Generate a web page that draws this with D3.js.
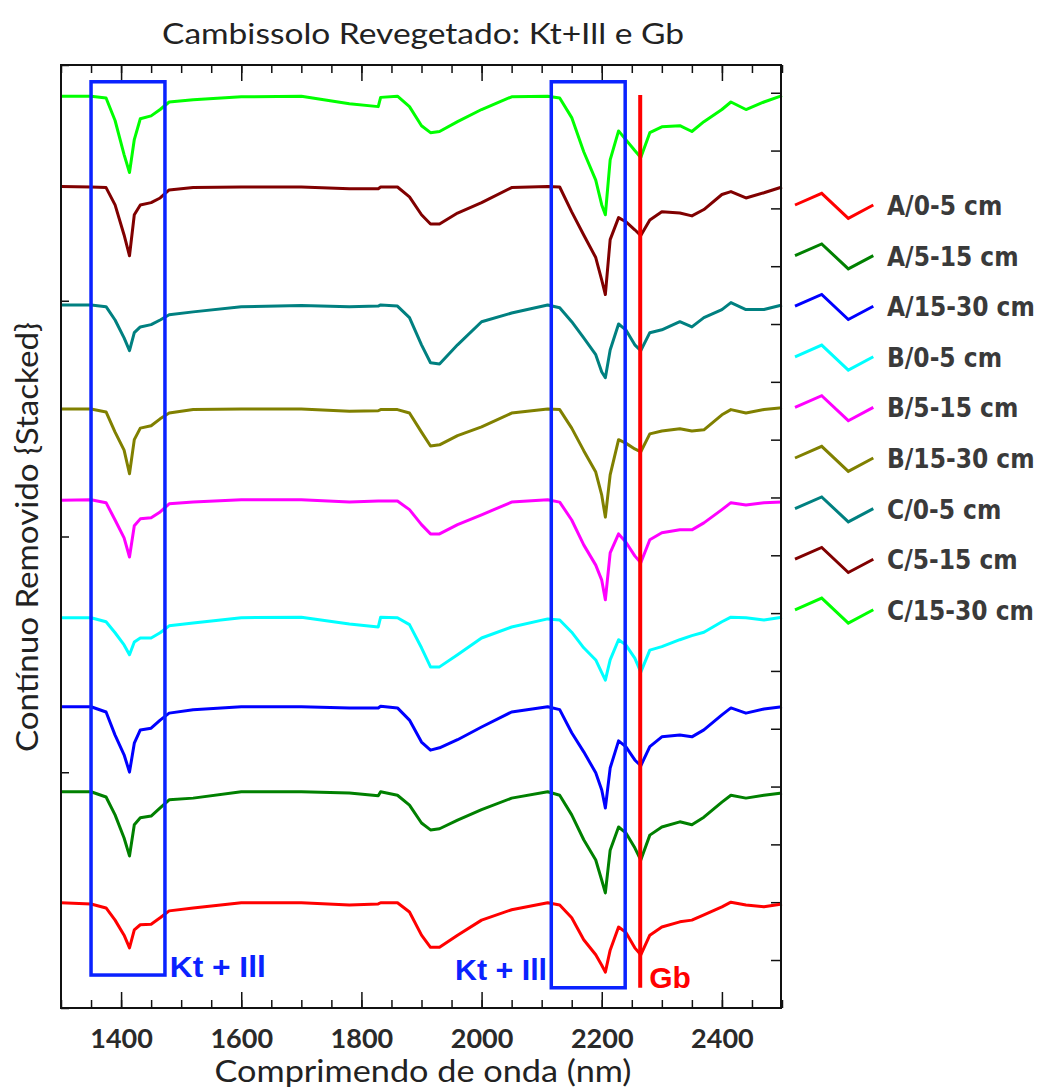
<!DOCTYPE html>
<html>
<head>
<meta charset="utf-8">
<script src="https://cdn.jsdelivr.net/npm/d3@7"></script>
<style>
  body { margin: 0; background: #fff; }
  svg { display: block; }
</style>
</head>
<body>
<div id="chart"></div>
<script>
// wavelengths (nm) shared by all spectra
const wavelengths = [1300, 1350, 1375, 1390, 1405, 1414, 1422, 1432, 1450, 1465,
  1480, 1520, 1600, 1700, 1780, 1828, 1832, 1860, 1880, 1900,
  1915, 1930, 1960, 2000, 2050, 2110, 2130, 2150, 2170, 2190,
  2200, 2206, 2214, 2228, 2240, 2255, 2265, 2280, 2300, 2330,
  2350, 2370, 2400, 2415, 2440, 2470, 2500];

// stacked continuum removed values
const a0_5 = [0.099, 0.097, 0.090, 0.069, 0.043, 0.021, 0.052, 0.061, 0.062, 0.073,
  0.085, 0.090, 0.099, 0.099, 0.095, 0.097, 0.099, 0.099, 0.083, 0.043,
  0.022, 0.022, 0.043, 0.069, 0.087, 0.099, 0.095, 0.073, 0.035, 0.009,
  -0.009, -0.021, 0.017, 0.057, 0.048, 0.021, 0.009, 0.043, 0.057, 0.066,
  0.069, 0.078, 0.092, 0.100, 0.095, 0.092, 0.097];
const a5_15 = [0.291, 0.291, 0.282, 0.251, 0.211, 0.180, 0.234, 0.246, 0.249, 0.263,
  0.277, 0.280, 0.291, 0.291, 0.289, 0.284, 0.291, 0.285, 0.268, 0.237,
  0.225, 0.227, 0.242, 0.260, 0.280, 0.291, 0.285, 0.251, 0.208, 0.173,
  0.138, 0.116, 0.190, 0.230, 0.220, 0.194, 0.173, 0.216, 0.230, 0.239,
  0.234, 0.247, 0.273, 0.285, 0.280, 0.285, 0.289];
const a15_30 = [0.438, 0.438, 0.429, 0.389, 0.355, 0.325, 0.375, 0.398, 0.401, 0.415,
  0.427, 0.433, 0.438, 0.438, 0.436, 0.436, 0.439, 0.436, 0.415, 0.377,
  0.363, 0.367, 0.381, 0.403, 0.429, 0.438, 0.433, 0.393, 0.360, 0.324,
  0.294, 0.263, 0.332, 0.379, 0.369, 0.346, 0.336, 0.369, 0.386, 0.389,
  0.386, 0.398, 0.424, 0.436, 0.427, 0.434, 0.438];
const b0_5 = [0.592, 0.592, 0.585, 0.566, 0.545, 0.528, 0.550, 0.557, 0.557, 0.566,
  0.578, 0.583, 0.592, 0.593, 0.581, 0.576, 0.593, 0.592, 0.580, 0.540,
  0.507, 0.507, 0.528, 0.557, 0.576, 0.590, 0.588, 0.567, 0.540, 0.519,
  0.497, 0.484, 0.519, 0.554, 0.545, 0.522, 0.498, 0.536, 0.542, 0.554,
  0.561, 0.567, 0.585, 0.593, 0.592, 0.588, 0.593];
const b5_15 = [0.795, 0.796, 0.791, 0.761, 0.730, 0.697, 0.751, 0.763, 0.765, 0.775,
  0.789, 0.792, 0.796, 0.796, 0.792, 0.794, 0.794, 0.794, 0.779, 0.753,
  0.737, 0.737, 0.753, 0.770, 0.792, 0.796, 0.792, 0.761, 0.718, 0.683,
  0.657, 0.623, 0.704, 0.737, 0.723, 0.699, 0.687, 0.727, 0.739, 0.744,
  0.744, 0.756, 0.779, 0.791, 0.787, 0.791, 0.792];
const b15_30 = [0.953, 0.953, 0.948, 0.913, 0.882, 0.841, 0.900, 0.920, 0.924, 0.936,
  0.946, 0.952, 0.953, 0.953, 0.949, 0.950, 0.952, 0.952, 0.946, 0.913,
  0.889, 0.891, 0.907, 0.922, 0.946, 0.953, 0.952, 0.920, 0.881, 0.844,
  0.804, 0.766, 0.839, 0.900, 0.894, 0.884, 0.879, 0.910, 0.915, 0.919,
  0.915, 0.917, 0.943, 0.952, 0.946, 0.952, 0.955];
const c0_5 = [1.133, 1.133, 1.130, 1.107, 1.076, 1.054, 1.085, 1.095, 1.099, 1.107,
  1.116, 1.121, 1.130, 1.132, 1.130, 1.131, 1.133, 1.131, 1.111, 1.064,
  1.033, 1.031, 1.064, 1.104, 1.119, 1.133, 1.128, 1.104, 1.076, 1.047,
  1.017, 1.007, 1.055, 1.100, 1.090, 1.064, 1.054, 1.085, 1.090, 1.104,
  1.095, 1.111, 1.125, 1.137, 1.125, 1.125, 1.133];
const c5_15 = [1.338, 1.337, 1.336, 1.306, 1.254, 1.218, 1.289, 1.306, 1.310, 1.318,
  1.332, 1.336, 1.337, 1.337, 1.334, 1.334, 1.337, 1.337, 1.320, 1.289,
  1.273, 1.273, 1.292, 1.310, 1.336, 1.338, 1.337, 1.294, 1.254, 1.215,
  1.176, 1.151, 1.246, 1.284, 1.277, 1.263, 1.253, 1.280, 1.294, 1.292,
  1.287, 1.298, 1.324, 1.329, 1.318, 1.327, 1.337];
const c15_30 = [1.494, 1.494, 1.491, 1.452, 1.393, 1.362, 1.419, 1.455, 1.460, 1.471,
  1.484, 1.488, 1.493, 1.494, 1.481, 1.476, 1.492, 1.494, 1.476, 1.443,
  1.431, 1.433, 1.450, 1.471, 1.493, 1.494, 1.491, 1.457, 1.398, 1.349,
  1.306, 1.289, 1.384, 1.434, 1.419, 1.400, 1.388, 1.431, 1.441, 1.443,
  1.433, 1.450, 1.471, 1.484, 1.471, 1.484, 1.495];

const seriesNames = ["A/0-5 cm", "A/5-15 cm", "A/15-30 cm", "B/0-5 cm", "B/5-15 cm",
  "B/15-30 cm", "C/0-5 cm", "C/5-15 cm", "C/15-30 cm"];
const seriesValues = [a0_5, a5_15, a15_30, b0_5, b5_15, b15_30, c0_5, c5_15, c15_30];
const seriesColors = ["#ff0000", "#008000", "#0000ff", "#00ffff", "#ff00ff",
  "#808000", "#008080", "#800000", "#00ff00"];

// annotation boxes (nm from, nm to) with (top, bottom) values, and the Gb line
const boxNm = [[1350, 1473], [2116, 2239]];
const boxV = [[1.519, -0.026], [1.519, -0.048]];
const gbNm = 2264;
const gbV = [1.496, -0.048];

const xMajor = [1400, 1600, 1800, 2000, 2200, 2400];
const xMinor = d3.range(1300, 2501, 50);
const yRight = d3.range(0, 16).map(i => i / 10);

const W = 1047, H = 1088;
const mLeft = 61, mRight = 781, mTop = 65, mBottom = 1008;

const svg = d3.select("#chart").append("svg")
    .attr("width", W)
    .attr("height", H);

const x = d3.scaleLinear().domain([1300, 2500]).range([mLeft, 782]);
const y = d3.scaleLinear().domain([-0.083, 1.548]).range([mBottom, mTop]);
const yOuter = d3.scaleLinear().domain([0, 4]).range([mBottom, mTop]);

// ticks
function tickAxis(axis, tr) {
    const g = svg.append("g").attr("transform", tr).call(axis);
    g.select(".domain").remove();
    g.selectAll(".tick line").attr("stroke", "#111").attr("stroke-width", 1.5);
    return g;
}

tickAxis(d3.axisBottom(x).tickValues(xMinor).tickSize(-8).tickFormat(""), `translate(0,${mBottom})`);
const xa = tickAxis(d3.axisBottom(x).tickValues(xMajor).tickSize(-16).tickPadding(21).tickFormat(d3.format("d")), `translate(0,${mBottom})`);
xa.selectAll("text")
    .attr("font-family", "Lato, 'Open Sans', sans-serif")
    .attr("font-size", 27)
    .attr("font-weight", "bold")
    .attr("fill", "#2a2a2a");
tickAxis(d3.axisTop(x).tickValues(xMinor).tickSize(-8).tickFormat(""), `translate(0,${mTop})`);
tickAxis(d3.axisTop(x).tickValues(xMajor).tickSize(-16).tickFormat(""), `translate(0,${mTop})`);
tickAxis(d3.axisRight(y).tickValues(yRight).tickSize(-10).tickFormat(""), `translate(${mRight},0)`);
tickAxis(d3.axisLeft(yOuter).ticks(4).tickSize(-8).tickFormat(""), `translate(${mLeft},0)`);

// spectra
const line = d3.line()
    .x((d, i) => x(wavelengths[i]))
    .y(d => y(d));

svg.append("g")
    .attr("fill", "none")
    .attr("stroke-width", 3)
    .attr("stroke-linejoin", "round")
    .selectAll("path")
    .data(seriesValues)
    .join("path")
    .attr("stroke", (d, i) => seriesColors[i])
    .attr("d", line);

// Kt + Ill boxes
svg.append("g")
    .selectAll("rect")
    .data(boxNm)
    .join("rect")
    .attr("x", d => x(d[0]))
    .attr("width", d => x(d[1]) - x(d[0]))
    .attr("y", (d, i) => y(boxV[i][0]))
    .attr("height", (d, i) => y(boxV[i][1]) - y(boxV[i][0]))
    .attr("fill", "none")
    .attr("stroke", "#0a22ff")
    .attr("stroke-width", 3.5);

// Gb line
svg.append("line")
    .attr("x1", x(gbNm)).attr("x2", x(gbNm))
    .attr("y1", y(gbV[0])).attr("y2", y(gbV[1]))
    .attr("stroke", "#ff0000")
    .attr("stroke-width", 4);

const lab = svg.append("g")
    .attr("font-family", "'Liberation Sans', Arial, sans-serif")
    .attr("font-weight", "bold")
    .attr("font-size", 30);
lab.append("text").attr("x", x(1481)).attr("y", y(-0.029)).attr("fill", "#0a22ff")
    .attr("textLength", 96).attr("lengthAdjust", "spacingAndGlyphs").text("Kt + Ill");
lab.append("text").attr("x", x(2109)).attr("y", y(-0.035)).attr("fill", "#0a22ff")
    .attr("text-anchor", "end")
    .attr("textLength", 92).attr("lengthAdjust", "spacingAndGlyphs").text("Kt + Ill");
lab.append("text").attr("x", x(2279)).attr("y", y(-0.048)).attr("fill", "#ff0000").text("Gb");

// frame
svg.append("rect")
    .attr("x", mLeft).attr("y", mTop)
    .attr("width", mRight - mLeft).attr("height", mBottom - mTop)
    .attr("fill", "none")
    .attr("stroke", "#111")
    .attr("stroke-width", 2);

// titles
const font = "Lato, 'Open Sans', sans-serif";
svg.append("text")
    .attr("x", 423).attr("y", 44)
    .attr("text-anchor", "middle")
    .attr("font-family", font).attr("font-size", 29)
    .attr("fill", "#222")
    .attr("textLength", 522).attr("lengthAdjust", "spacingAndGlyphs")
    .text("Cambissolo Revegetado: Kt+Ill e Gb");

svg.append("text")
    .attr("x", 423).attr("y", 1082)
    .attr("text-anchor", "middle")
    .attr("font-family", font).attr("font-size", 30)
    .attr("fill", "#222")
    .attr("textLength", 417).attr("lengthAdjust", "spacingAndGlyphs")
    .text("Comprimendo de onda (nm)");

svg.append("text")
    .attr("transform", "translate(38,537) rotate(-90)")
    .attr("text-anchor", "middle")
    .attr("font-family", font).attr("font-size", 30)
    .attr("fill", "#222")
    .attr("textLength", 430).attr("lengthAdjust", "spacingAndGlyphs")
    .text("Contínuo Removido {Stacked}");

// legend
const legend = svg.append("g")
    .selectAll("g")
    .data(seriesNames)
    .join("g")
    .attr("transform", (d, i) => `translate(0,${205 + i * 50.6})`);

legend.append("path")
    .attr("d", "M795,0L821.7,-11.7L848.3,13.3L873.3,0")
    .attr("fill", "none")
    .attr("stroke", (d, i) => seriesColors[i])
    .attr("stroke-width", 3);

legend.append("text")
    .attr("x", 887)
    .attr("y", 10)
    .attr("font-family", "'DejaVu Sans Condensed', 'DejaVu Sans', sans-serif")
    .attr("font-size", 26)
    .attr("font-weight", "bold")
    .attr("fill", "#3a3a3a")
    .text(d => d);
</script>
</body>
</html>
